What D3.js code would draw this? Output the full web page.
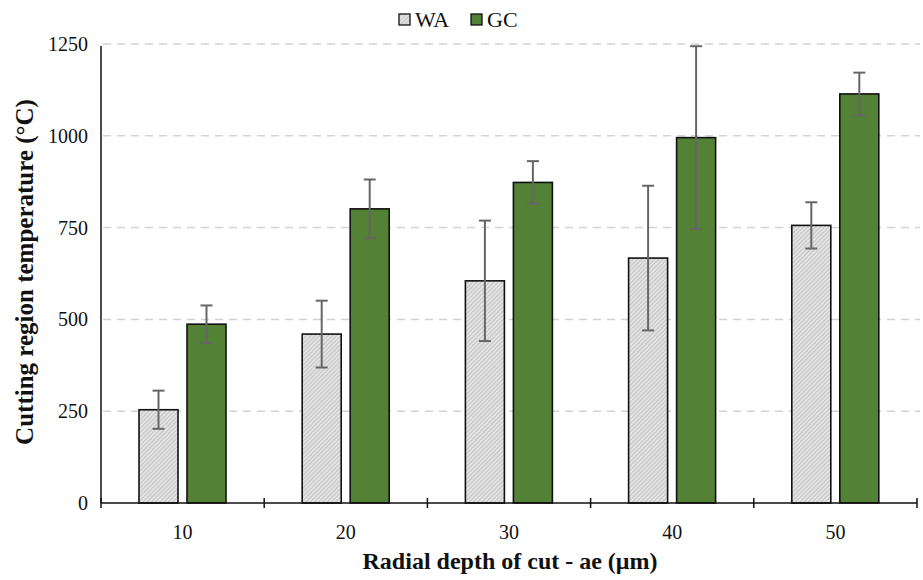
<!DOCTYPE html>
<html>
<head>
<meta charset="utf-8">
<script src="https://cdn.jsdelivr.net/npm/d3@7"></script>
<style>
  html, body { margin: 0; padding: 0; background: #fff; }
  svg { display: block; }
  svg text { font-family: "Liberation Serif", "Times New Roman", serif; }
</style>
</head>
<body>
<svg id="chart" width="923" height="580"></svg>
<script>
const categories = ["10", "20", "30", "40", "50"];
const seriesNames = ["WA", "GC"];
const waValues = [254, 460, 605, 667, 756];
const waErrors = [52, 91, 164, 197, 63];
const gcValues = [487, 801, 873, 995, 1114];
const gcErrors = [51, 80, 58, 249, 58];
const yTicks = [0, 250, 500, 750, 1000, 1250];

(function () {
const FONT = "'Liberation Serif', 'Times New Roman', serif";
const svg = d3.select("#chart");
const mLeft = 101, mRight = 917, mTop = 44, mBottom = 503;

const defs = svg.append("defs");
const pat = defs.append("pattern")
  .attr("id", "hatch").attr("patternUnits", "userSpaceOnUse")
  .attr("width", 3).attr("height", 3)
  .attr("patternTransform", "rotate(45)");
pat.append("rect").attr("width", 3).attr("height", 3).attr("fill", "#e2e2e2");
pat.append("line").attr("x1", 0).attr("y1", 0).attr("x2", 0).attr("y2", 3)
  .attr("stroke", "#a8a8a8").attr("stroke-width", 1);

const colors = { WA: "url(#hatch)", GC: "#538135" };

const x0 = d3.scaleBand().domain(categories).range([mLeft, mRight]).padding(0);
const x1 = d3.scaleBand().domain(seriesNames).range([38, 125]).paddingInner(0.1875);
const y = d3.scaleLinear().domain([0, 1250]).range([mBottom, mTop]);

// gridlines
svg.append("g").selectAll("line").data(yTicks.filter(d => d > 0)).join("line")
  .attr("x1", mLeft + 2).attr("x2", 920)
  .attr("y1", d => y(d)).attr("y2", d => y(d))
  .attr("stroke", "#d3d3d3").attr("stroke-width", 1.5)
  .attr("stroke-dasharray", "8,6");

// bars
const data = categories.map((c, i) => ({
  cat: c,
  vals: [
    { s: "WA", v: waValues[i], e: waErrors[i] },
    { s: "GC", v: gcValues[i], e: gcErrors[i] }
  ]
}));

const groups = svg.append("g").selectAll("g").data(data).join("g")
  .attr("transform", d => `translate(${x0(d.cat)},0)`);

groups.selectAll("rect").data(d => d.vals).join("rect")
  .attr("x", d => x1(d.s)).attr("width", x1.bandwidth())
  .attr("y", d => y(d.v)).attr("height", d => y(0) - y(d.v))
  .attr("fill", d => colors[d.s])
  .attr("stroke", "#111").attr("stroke-width", 1.6);

// error bars
const eb = groups.selectAll("g.eb").data(d => d.vals).join("g").attr("class", "eb");
eb.append("line")
  .attr("x1", d => x1(d.s) + x1.bandwidth() / 2).attr("x2", d => x1(d.s) + x1.bandwidth() / 2)
  .attr("y1", d => y(d.v + d.e)).attr("y2", d => y(d.v - d.e))
  .attr("stroke", "#666").attr("stroke-width", 2);
eb.selectAll("line.cap").data(d => [d.v + d.e, d.v - d.e].map(v => ({ s: d.s, v }))).join("line")
  .attr("class", "cap")
  .attr("x1", d => x1(d.s) + x1.bandwidth() / 2 - 6).attr("x2", d => x1(d.s) + x1.bandwidth() / 2 + 6)
  .attr("y1", d => y(d.v)).attr("y2", d => y(d.v))
  .attr("stroke", "#666").attr("stroke-width", 2);

// y axis
const yAxis = d3.axisLeft(y).tickValues(yTicks).tickFormat(d3.format("d")).tickSize(0).tickPadding(13);
const gy = svg.append("g").attr("transform", `translate(${mLeft},0)`).call(yAxis)
  .attr("font-family", FONT).attr("font-size", 20);
gy.select(".domain").attr("stroke", "#111").attr("stroke-width", 1.5)
  .attr("d", `M0,${mTop + 2}V${mBottom}`);
gy.selectAll("text").attr("fill", "#111").style("font-family", FONT).style("font-size", "20px");

// x axis
const gx = svg.append("g").attr("transform", `translate(0,${mBottom})`);
gx.append("line").attr("x1", mLeft).attr("x2", mRight).attr("y1", 0).attr("y2", 0)
  .attr("stroke", "#111").attr("stroke-width", 1.5);
const boundaries = categories.map(c => x0(c)).concat([mRight]);
gx.selectAll("line.tk").data(boundaries).join("line").attr("class", "tk")
  .attr("x1", d => d).attr("x2", d => d).attr("y1", -5).attr("y2", 5)
  .attr("stroke", "#111").attr("stroke-width", 1.5);
gx.selectAll("text").data(categories).join("text")
  .attr("x", d => x0(d) + x0.bandwidth() / 2).attr("y", 36)
  .attr("text-anchor", "middle").attr("fill", "#111")
  .style("font-family", FONT).style("font-size", "20px")
  .text(d => d);

// axis titles
svg.append("text").attr("x", 510).attr("y", 569).attr("text-anchor", "middle")
  .style("font-family", FONT).style("font-size", "24px").attr("font-weight", "bold").attr("fill", "#111")
  .text("Radial depth of cut - ae (μm)");
svg.append("text").attr("transform", "translate(33,272) rotate(-90)").attr("text-anchor", "middle")
  .style("font-family", FONT).style("font-size", "25px").attr("font-weight", "bold").attr("fill", "#111")
  .text("Cutting region temperature (°C)");

// legend
const legend = svg.append("g");
const legX = [399, 471];
seriesNames.forEach((s, i) => {
  legend.append("rect").attr("x", legX[i]).attr("y", 14).attr("width", 11).attr("height", 11)
    .attr("fill", colors[s]).attr("stroke", "#111").attr("stroke-width", 1.3);
  legend.append("text").attr("x", legX[i] + 16).attr("y", 27)
    .style("font-family", FONT).style("font-size", "22px").attr("fill", "#111")
    .text(s);
});
})();
</script>
</body>
</html>
